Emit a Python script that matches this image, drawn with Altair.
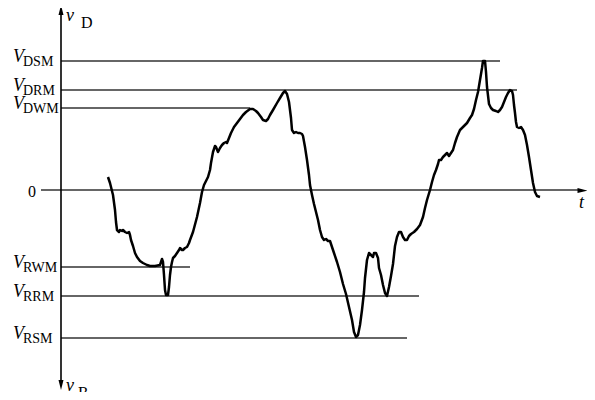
import altair as alt
import pandas as pd

# ---- waveform (t in arbitrary units, v in arbitrary units; 0 = zero line) ----
wave_t = [108, 110, 113, 115, 116, 117, 119, 120, 122, 123, 125, 127, 129, 130, 131, 133, 135, 137, 140, 143,
          147, 150, 155, 160, 161, 162, 163, 164, 165, 166, 168, 169, 170, 171, 172, 173, 175, 177, 179, 180,
          182, 183, 185, 187, 189, 190, 193, 197, 200, 202, 204, 206, 208, 210, 211, 213, 215, 216, 218, 220,
          222, 224, 226, 227, 229, 231, 234, 237, 240, 243, 246, 250, 253, 256, 258, 261, 263, 266, 268, 270,
          273, 277, 280, 283, 285, 287, 289, 291, 292, 294, 296, 298, 300, 302, 303, 305, 307, 309, 310, 312,
          314, 316, 318, 320, 322, 324, 326, 328, 330, 332, 334, 337, 340, 343, 346, 349, 352, 354, 356, 358,
          360, 362, 364, 365, 367, 369, 371, 373, 374, 376, 378, 379, 381, 383, 385, 387, 389, 391, 393, 395,
          397, 399, 401, 403, 405, 407, 409, 411, 414, 417, 420, 423, 425, 427, 430, 432, 434, 436, 438, 439,
          441, 443, 445, 447, 449, 451, 453, 455, 457, 460, 463, 467, 470, 472, 474, 476, 478, 480, 482, 483,
          485, 486, 487, 489, 491, 493, 496, 498, 500, 502, 504, 506, 508, 510, 512, 513, 514, 515, 516, 517,
          519, 521, 523, 525, 527, 529, 531, 533, 535, 537, 540]
wave_py = [177, 183, 195, 210, 222, 230, 232, 230, 231, 230, 232, 233, 232, 235, 240, 246, 253, 257, 261, 263,
           265, 266, 266, 265, 262, 259, 262, 275, 290, 295, 295, 287, 275, 267, 262, 258, 256, 253, 250, 248,
           250, 250, 248, 247, 243, 240, 232, 217, 203, 192, 185, 181, 177, 170, 163, 152, 146, 147, 152, 148,
           145, 143, 142, 143, 138, 133, 127, 123, 119, 115, 112, 109, 109, 111, 113, 117, 120, 121, 119, 115,
           110, 103, 98, 93, 91, 94, 102, 118, 130, 133, 132, 133, 133, 134, 136, 147, 160, 175, 185, 195,
           204, 212, 220, 230, 237, 240, 239, 241, 241, 247, 253, 262, 272, 284, 294, 307, 320, 332, 337, 335,
           325, 310, 292, 278, 260, 253, 255, 257, 253, 253, 258, 268, 275, 285, 293, 296, 287, 276, 264, 246,
           237, 232, 232, 237, 240, 240, 236, 234, 232, 229, 225, 217, 208, 200, 190, 182, 175, 170, 164, 160,
           160, 157, 155, 153, 156, 153, 150, 143, 137, 130, 127, 123, 118, 115, 109, 100, 92, 80, 68, 61,
           61, 72, 87, 104, 108, 110, 111, 112, 110, 107, 102, 97, 93, 90, 91, 95, 105, 113, 122, 127,
           128, 127, 130, 135, 145, 157, 170, 183, 192, 196, 197]
ZERO = 190
wave_v = [ZERO - p for p in wave_py]

# ---- reference levels ----
level_names = ["DSM", "DRM", "DWM", "RWM", "RRM", "RSM"]
level_v = [129, 100, 82, -77, -106, -148]
level_end_t = [500, 517, 250, 190, 419, 407]
axis_t = 61          # position of vertical axis on t
zero_start_t = 41
zero_end_t = 581

wave = pd.DataFrame({"t": wave_t, "v": wave_v})
levels = pd.DataFrame({"name": level_names, "v": level_v, "t0": [axis_t] * 6, "t1": level_end_t})

X0, X1 = 8, 587
Y_TOP, Y_BOT = ZERO - 8, ZERO - 392
xs = alt.Scale(domain=[X0, X1], nice=False, zero=False)
ys = alt.Scale(domain=[Y_BOT, Y_TOP], nice=False, zero=False)
SERIF = "Liberation Serif"

curve = alt.Chart(wave).mark_line(color="black", strokeWidth=2.5, strokeJoin="round").encode(
    x=alt.X("t:Q", scale=xs, axis=None), y=alt.Y("v:Q", scale=ys, axis=None))

hlines = alt.Chart(levels).mark_rule(color="#333333", strokeWidth=1.4).encode(
    x=alt.X("t0:Q", scale=xs, axis=None), x2="t1:Q", y=alt.Y("v:Q", scale=ys, axis=None))

zero_df = pd.DataFrame({"t0": [zero_start_t], "t1": [zero_end_t], "v": [0]})
zline = alt.Chart(zero_df).mark_rule(color="#333333", strokeWidth=1.4).encode(
    x=alt.X("t0:Q", scale=xs, axis=None), x2="t1:Q", y=alt.Y("v:Q", scale=ys, axis=None))

vaxis_df = pd.DataFrame({"t": [axis_t], "v0": [ZERO - 12], "v1": [ZERO - 386]})
vaxis = alt.Chart(vaxis_df).mark_rule(color="black", strokeWidth=1.6).encode(
    x=alt.X("t:Q", scale=xs, axis=None), y=alt.Y("v0:Q", scale=ys, axis=None), y2="v1:Q")

ARROW = "M0,-1L0.5,1L-0.5,1Z"
up_df = pd.DataFrame({"t": [axis_t], "v": [ZERO - 10]})
down_df = pd.DataFrame({"t": [axis_t], "v": [ZERO - 385]})
right_df = pd.DataFrame({"t": [582.5], "v": [-0.5]})


def arrow(df, ang):
    return alt.Chart(df).mark_point(shape=ARROW, filled=True, color="black", size=100, opacity=1,
                                    angle=ang).encode(
        x=alt.X("t:Q", scale=xs, axis=None), y=alt.Y("v:Q", scale=ys, axis=None))


vtext = alt.Chart(levels).mark_text(text="V", font=SERIF, fontStyle="italic", fontSize=18,
                                    align="left", baseline="alphabetic", dy=1, dx=13 - 61,
                                    color="black").encode(
    x=alt.X("t0:Q", scale=xs, axis=None), y=alt.Y("v:Q", scale=ys, axis=None))
subtext = alt.Chart(levels).mark_text(font=SERIF, fontSize=14, align="left", baseline="alphabetic",
                                      dy=5, dx=23 - 61, color="black").encode(
    x=alt.X("t0:Q", scale=xs, axis=None), y=alt.Y("v:Q", scale=ys, axis=None), text="name:N")

n_df = pd.DataFrame({"txt": ["0", "D", "R"], "t": [28, 81, 78],
                     "v": [ZERO - 197, ZERO - 28, ZERO - 398]})
i_df = pd.DataFrame({"txt": ["v", "v", "t"], "t": [66, 66, 579],
                     "v": [ZERO - 21, ZERO - 391, ZERO - 208]})
misc_n = alt.Chart(n_df).mark_text(font=SERIF, fontSize=16, align="left",
                                   baseline="alphabetic", color="black").encode(
    x=alt.X("t:Q", scale=xs, axis=None), y=alt.Y("v:Q", scale=ys, axis=None), text="txt:N")
misc_i = alt.Chart(i_df).mark_text(font=SERIF, fontSize=18, fontStyle="italic",
                                   align="left", baseline="alphabetic", color="black").encode(
    x=alt.X("t:Q", scale=xs, axis=None), y=alt.Y("v:Q", scale=ys, axis=None), text="txt:N")

chart = alt.layer(hlines, zline, vaxis, arrow(up_df, 0), arrow(down_df, 180), arrow(right_df, 90),
                  curve, vtext, subtext, misc_n, misc_i).properties(
    width=X1 - X0, height=Y_TOP - Y_BOT, autosize="none", padding=0, background="white"
).configure_view(stroke=None)

chart.save("out.html", embed_options={"renderer": "svg", "actions": False})
